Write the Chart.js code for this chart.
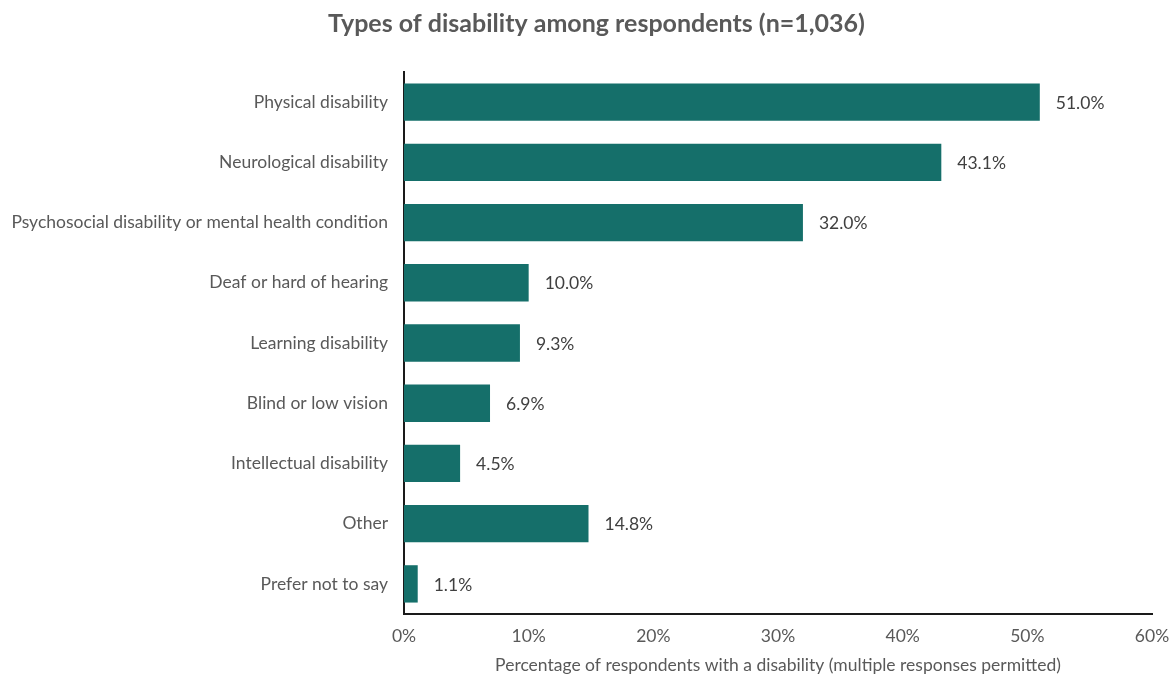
<!DOCTYPE html>
<html>
<head>
<meta charset="utf-8">
<script src="https://cdn.jsdelivr.net/npm/chart.js@4/dist/chart.umd.min.js"></script>
<style>
  html, body { margin: 0; padding: 0; background: #ffffff; }
  #wrap { width: 1173px; height: 682px; position: relative; }
</style>
</head>
<body>
<div id="wrap"><canvas id="chart" width="1173" height="682"></canvas></div>
<script>
// Disability types and share of respondents (%)
const categories = [
  'Physical disability',
  'Neurological disability',
  'Psychosocial disability or mental health condition',
  'Deaf or hard of hearing',
  'Learning disability',
  'Blind or low vision',
  'Intellectual disability',
  'Other',
  'Prefer not to say'
];
const shares = [51.0, 43.1, 32.0, 10.0, 9.3, 6.9, 4.5, 14.8, 1.1];
const xTicks = [0, 10, 20, 30, 40, 50, 60];
const chartTitle = 'Types of disability among respondents (n=1,036)';

const FONT = "Lato, 'Open Sans', sans-serif";
const BAR = '#156f6a';
const GREY = '#595959';
const LABEL_SIZE = 17.5;

// Value labels to the right of each bar
const valueLabels = {
  id: 'valueLabels',
  afterDatasetsDraw(chart) {
    const ctx = chart.ctx;
    const meta = chart.getDatasetMeta(0);
    ctx.save();
    ctx.font = LABEL_SIZE + 'px ' + FONT;
    ctx.fillStyle = '#404040';
    ctx.textAlign = 'left';
    ctx.textBaseline = 'middle';
    meta.data.forEach((bar, i) => {
      ctx.fillText(shares[i].toFixed(1) + '%', bar.x + 16, bar.y + 1);
    });
    ctx.restore();
  }
};

// Heading centred over the page area to the right of the side margin
const heading = {
  id: 'heading',
  afterDraw(chart) {
    const ctx = chart.ctx;
    ctx.save();
    ctx.font = 'bold 25px ' + FONT;
    ctx.fillStyle = GREY;
    ctx.textAlign = 'center';
    ctx.textBaseline = 'middle';
    ctx.fillText(chartTitle, (20 + chart.width) / 2, 24);
    ctx.restore();
  }
};

Chart.defaults.font.family = FONT;
Chart.defaults.color = GREY;

new Chart(document.getElementById('chart'), {
  type: 'bar',
  data: {
    labels: categories,
    datasets: [{
      data: shares,
      backgroundColor: BAR,
      borderWidth: 0,
      barPercentage: 0.62,
      categoryPercentage: 1.0
    }]
  },
  options: {
    indexAxis: 'y',
    responsive: false,
    animation: false,
    layout: { padding: { left: 0, right: 0, top: 72, bottom: 0 } },
    plugins: {
      legend: { display: false },
      tooltip: { enabled: false },
      title: { display: false }
    },
    scales: {
      x: {
        min: 0,
        max: 60,
        afterBuildTicks(scale) {
          scale.ticks = xTicks.map(v => ({ value: v }));
        },
        afterFit(scale) {
          scale.height = 68;
          scale.paddingRight = 21;
          scale.paddingLeft = 0;
        },
        ticks: {
          callback: v => v + '%',
          color: GREY,
          font: { size: LABEL_SIZE },
          padding: 12
        },
        grid: { display: false, drawTicks: false },
        border: { display: true, color: '#1a1a1a', width: 2 },
        title: {
          display: true,
          text: 'Percentage of respondents with a disability (multiple responses permitted)',
          color: GREY,
          font: { size: LABEL_SIZE },
          padding: { top: 6, bottom: 6.5 }
        }
      },
      y: {
        afterFit(scale) { scale.width = 404; },
        ticks: {
          color: GREY,
          font: { size: LABEL_SIZE },
          padding: 16
        },
        grid: { display: false, drawTicks: false },
        border: { display: true, color: '#1a1a1a', width: 2 }
      }
    }
  },
  plugins: [valueLabels, heading]
});
</script>
</body>
</html>
